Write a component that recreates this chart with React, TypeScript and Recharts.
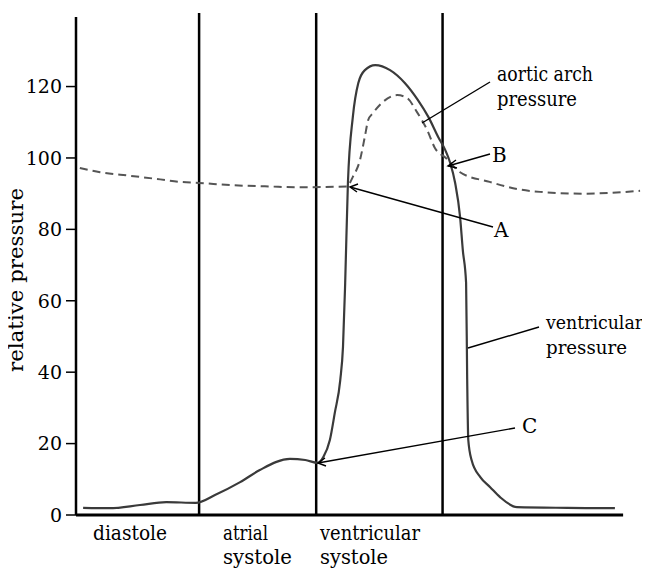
import React from 'react';
import { LineChart, Line, XAxis, YAxis, ReferenceLine } from 'recharts';

// time in arbitrary units across the cardiac cycle, pressure
const ventricular = [
  { t: 1.3, p: 2.0 }, { t: 6.2, p: 1.9 }, { t: 11.7, p: 2.8 }, { t: 16.5, p: 3.6 },
  { t: 21.9, p: 3.4 }, { t: 25.4, p: 5.6 }, { t: 30.0, p: 9.2 }, { t: 33.6, p: 12.6 },
  { t: 39.1, p: 15.7 }, { t: 41.9, p: 15.4 }, { t: 44.2, p: 14.6 }, { t: 45.2, p: 16.2 },
  { t: 46.4, p: 21.0 }, { t: 47.3, p: 28.6 }, { t: 48.3, p: 37.8 }, { t: 48.8, p: 47.1 },
  { t: 49.2, p: 65.0 }, { t: 49.7, p: 93.0 }, { t: 50.6, p: 111.5 }, { t: 51.6, p: 121.0 },
  { t: 52.8, p: 124.6 }, { t: 54.7, p: 126.0 }, { t: 57.4, p: 124.6 }, { t: 60.1, p: 121.0 },
  { t: 62.5, p: 116.2 }, { t: 64.4, p: 111.5 }, { t: 66.2, p: 105.9 }, { t: 67.5, p: 102.2 },
  { t: 68.4, p: 98.6 }, { t: 69.3, p: 93.0 }, { t: 70.2, p: 83.5 }, { t: 70.7, p: 74.2 },
  { t: 71.3, p: 65.0 }, { t: 71.5, p: 38.0 }, { t: 71.7, p: 21.0 }, { t: 72.3, p: 15.4 },
  { t: 73.9, p: 10.6 }, { t: 75.7, p: 7.8 }, { t: 77.5, p: 5.0 }, { t: 80.6, p: 2.2 },
  { t: 89.8, p: 2.0 }, { t: 98.5, p: 1.9 },
];

const aortic = [
  { t: 0.7, p: 97.2 }, { t: 4.4, p: 96.0 }, { t: 9.9, p: 95.0 }, { t: 15.4, p: 94.0 },
  { t: 19.0, p: 93.3 }, { t: 22.5, p: 93.0 }, { t: 28.2, p: 92.4 }, { t: 35.5, p: 92.0 },
  { t: 41.0, p: 91.8 }, { t: 49.5, p: 92.0 }, { t: 50.6, p: 94.7 }, { t: 51.9, p: 99.4 },
  { t: 52.8, p: 106.0 }, { t: 53.4, p: 110.6 }, { t: 54.3, p: 112.6 }, { t: 56.1, p: 115.7 },
  { t: 58.7, p: 117.6 }, { t: 60.5, p: 116.8 }, { t: 62.3, p: 112.9 }, { t: 64.2, p: 107.8 },
  { t: 65.6, p: 102.8 }, { t: 67.6, p: 100.0 }, { t: 70.2, p: 96.0 }, { t: 75.6, p: 93.3 },
  { t: 80.6, p: 91.3 }, { t: 84.8, p: 90.5 }, { t: 92.7, p: 90.0 }, { t: 97.6, p: 90.2 },
  { t: 103.1, p: 90.8 },
];

// phase boundaries
const phaseLines = [22.5, 43.9, 67.0];
const yTicks = [0, 20, 40, 60, 80, 100, 120];

const FONT = "'DejaVu Serif', serif";

// text with a fixed drawn width so the wide serif matches the original's Times-like face
function Label({ x, y, w, size, children }: { x: number; y: number; w?: number; size?: number; children: string }) {
  return (
    <text x={x} y={y} fontSize={size} textLength={w} lengthAdjust={w ? 'spacingAndGlyphs' : undefined}>
      {children}
    </text>
  );
}

export default function App() {
  return (
    <div
      style={{
        position: 'relative',
        width: 650,
        height: 571,
        marginLeft: -8,
        marginRight: -8,
        marginTop: -8,
        background: '#fff',
      }}
    >
      <LineChart width={650} height={571} margin={{ top: 8, right: 5, bottom: 56, left: 0 }}>
        <XAxis type="number" dataKey="t" domain={[0, 104]} hide allowDataOverflow />
        <YAxis
          type="number"
          domain={[0, 142]}
          ticks={yTicks}
          width={76}
          axisLine={false}
          tickLine={{ stroke: '#000', strokeWidth: 1.5 }}
          tickSize={10}
          tickMargin={4}
          tick={{ fill: '#000', fontSize: 19, fontFamily: FONT }}
          allowDataOverflow
        />
        <ReferenceLine ifOverflow="visible" segment={[{ x: 0, y: 0 }, { x: 0, y: 139.5 }]} stroke="#000" strokeWidth={2.5} />
        <ReferenceLine ifOverflow="visible" segment={[{ x: 0, y: 0 }, { x: 100, y: 0 }]} stroke="#000" strokeWidth={3} />
        {phaseLines.map((x) => (
          <ReferenceLine key={x} ifOverflow="visible" segment={[{ x, y: 0 }, { x, y: 140.6 }]} stroke="#000" strokeWidth={2.5} />
        ))}
        <Line
          data={aortic}
          dataKey="p"
          type="monotone"
          stroke="#555"
          strokeWidth={2}
          strokeDasharray="8 5"
          dot={false}
          isAnimationActive={false}
        />
        <Line
          data={ventricular}
          dataKey="p"
          type="monotone"
          stroke="#3a3a3a"
          strokeWidth={2.2}
          dot={false}
          isAnimationActive={false}
        />
      </LineChart>

      {/* annotations and phase names */}
      <svg
        width={650}
        height={571}
        style={{ position: 'absolute', left: 0, top: 0, pointerEvents: 'none' }}
        fill="#000"
      >
        <g style={{ fontFamily: FONT }} fontSize={20}>
          <text
            x={23}
            y={280}
            textAnchor="middle"
            transform="rotate(-90, 23, 280)"
            textLength={184}
            lengthAdjust="spacingAndGlyphs"
          >
            relative pressure
          </text>

          <Label x={93} y={540} w={74}>diastole</Label>
          <Label x={223} y={540} w={45}>atrial</Label>
          <Label x={223} y={564} w={69}>systole</Label>
          <Label x={320} y={540} w={100}>ventricular</Label>
          <Label x={320} y={564} w={68}>systole</Label>

          <Label x={497} y={81} w={96}>aortic arch</Label>
          <Label x={497} y={106} w={80}>pressure</Label>
          <Label x={492} y={162}>B</Label>
          <Label x={494} y={237}>A</Label>
          <Label x={522} y={433}>C</Label>
          <Label x={546} y={329} w={97} size={18}>ventricular</Label>
          <Label x={546} y={354} w={81} size={18}>pressure</Label>
        </g>

        <g stroke="#000" strokeWidth={1.4} fill="none">
          <line x1={490} y1={82} x2={422} y2={123} />
          <line x1={490} y1={154} x2={448} y2={166} />
          <polyline points="456,160 448,166 457,168" />
          <line x1={493} y1={227} x2={350} y2={187} />
          <polyline points="358,184 350,187 357,192" />
          <line x1={515} y1={428} x2={318} y2={463} />
          <polyline points="325,458 318,463 326,466" />
          <line x1={539} y1={327} x2={468} y2={348} />
        </g>
      </svg>
    </div>
  );
}
